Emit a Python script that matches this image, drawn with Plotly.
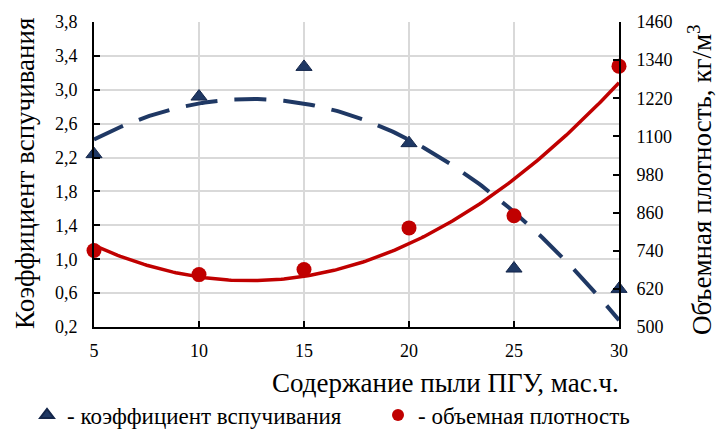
import numpy as np
import plotly.graph_objects as go

# ---- data ----
content = [5, 10, 15, 20, 25, 30]
swelling = [2.24, 2.92, 3.27, 2.37, 0.89, 0.65]
density = [741, 665, 681, 812, 850, 1321]

left_ticks = [0.2, 0.6, 1.0, 1.4, 1.8, 2.2, 2.6, 3.0, 3.4, 3.8]
left_ticktext = ["0,2", "0,6", "1,0", "1,4", "1,8", "2,2", "2,6", "3,0", "3,4", "3,8"]
right_ticks = [500, 620, 740, 860, 980, 1100, 1220, 1340, 1460]
x_ticks = [5, 10, 15, 20, 25, 30]

name_swell = "- коэффициент вспучивания"
name_dens = "- объемная плотность"
x_title = "Содержание пыли ПГУ, мас.ч."
y1_title = "Коэффициент вспучивания"
y2_title = "Объемная плотность, кг/м<sup>3</sup>"

BLUE = "#1F3864"
RED = "#C00000"
FONT = "'Liberation Serif', 'DejaVu Serif', serif"

# quadratic trendlines fitted to the data
xs = np.linspace(min(content), max(content), 200)
p1 = np.polyfit(content, swelling, 2)
p2 = np.polyfit(content, density, 2)

fig = go.Figure()
fig.add_trace(go.Scatter(x=xs, y=np.polyval(p1, xs), mode="lines",
                         line=dict(color=BLUE, width=4, dash="32px,17px"),
                         showlegend=False, hoverinfo="skip", yaxis="y"))
fig.add_trace(go.Scatter(x=xs, y=np.polyval(p2, xs), mode="lines",
                         line=dict(color=RED, width=3.5),
                         showlegend=False, hoverinfo="skip", yaxis="y2"))
fig.add_trace(go.Scatter(x=content, y=swelling, mode="markers", name=name_swell,
                         marker=dict(symbol="triangle-up", size=14, color=BLUE,
                                     line=dict(color="#14264a", width=1)),
                         cliponaxis=False, yaxis="y", legend="legend"))
fig.add_trace(go.Scatter(x=content, y=density, mode="markers", name=name_dens,
                         marker=dict(symbol="circle", size=15, color=RED),
                         cliponaxis=False, yaxis="y2", legend="legend2"))

tickfont = dict(family=FONT, size=18, color="#000")
titlefont = dict(family=FONT, size=27, color="#000")
legfont = dict(family=FONT, size=23, color="#000")

L, T, B = 94, 22, 103
PW, PH = 717 - L - 98, 430 - T - B

fig.update_layout(
    width=717, height=430,
    margin=dict(l=L, r=98, t=T, b=B, autoexpand=False),
    paper_bgcolor="white", plot_bgcolor="white",
    font=dict(family=FONT, color="#000"),
    xaxis=dict(range=[5, 30], tickvals=x_ticks, ticks="inside", ticklen=6,
               tickwidth=2, tickcolor="#000", showline=True, linecolor="#000",
               linewidth=2, showgrid=True, gridcolor="#d9d9d9", gridwidth=1.5,
               zeroline=False, tickfont=tickfont, ticklabelstandoff=6),
    yaxis=dict(range=[0.2, 3.8], tickvals=left_ticks, ticktext=left_ticktext,
               ticks="inside", ticklen=6, tickwidth=2, tickcolor="#000",
               showline=True, linecolor="#000", linewidth=2, showgrid=True,
               gridcolor="#d9d9d9", gridwidth=1.5, zeroline=False,
               tickfont=tickfont, ticklabelstandoff=11),
    yaxis2=dict(range=[500, 1460], tickvals=right_ticks, overlaying="y",
                side="right", ticks="inside", ticklen=6, tickwidth=2,
                tickcolor="#000", showline=True, linecolor="#000", linewidth=2,
                showgrid=False, zeroline=False, tickfont=tickfont,
                ticklabelstandoff=12),
    legend=dict(orientation="h", xref="container", yref="container",
                x=27 / 717, y=1 - 415 / 430, xanchor="left", yanchor="middle",
                font=legfont, itemsizing="constant", bgcolor="rgba(0,0,0,0)"),
    legend2=dict(orientation="h", xref="container", yref="container",
                 x=378 / 717, y=1 - 415 / 430, xanchor="left", yanchor="middle",
                 font=legfont, itemsizing="constant", bgcolor="rgba(0,0,0,0)"),
    annotations=[
        dict(text=x_title, xref="paper", yref="paper", x=(445 - L) / PW,
             y=-(383 - (T + PH)) / PH, xanchor="center", yanchor="middle",
             showarrow=False, font=titlefont),
        dict(text=y1_title, xref="paper", yref="paper", x=(25 - L) / PW,
             y=(T + PH - 174) / PH, xanchor="center", yanchor="middle",
             showarrow=False, textangle=-90, font=titlefont),
        dict(text=y2_title, xref="paper", yref="paper", x=(700 - L) / PW,
             y=(T + PH - 180) / PH, xanchor="center", yanchor="middle",
             showarrow=False, textangle=-90, font=titlefont),
    ],
)

fig.write_html("out.html", config={"displayModeBar": False},
               post_script="document.body.style.margin='0';document.body.style.padding='0';")
